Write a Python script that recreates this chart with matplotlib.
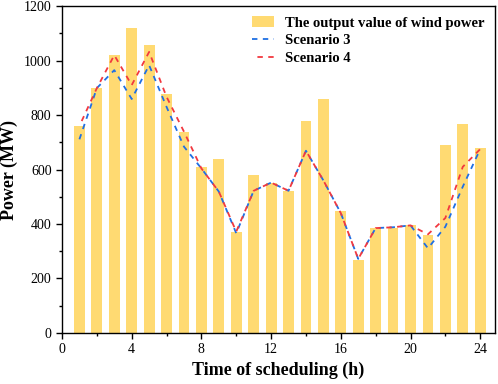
import matplotlib.pyplot as plt
from matplotlib.ticker import MultipleLocator

plt.rcParams['font.family'] = ['Liberation Serif', 'DejaVu Serif']

hours = list(range(1, 25))
wind_power = [760, 899, 1020, 1119, 1059, 878, 739, 610, 638, 371, 580, 549,
              520, 779, 859, 449, 269, 385, 385, 395, 360, 689, 768, 680]
scenario3 = [711, 899, 965, 859, 983, 830, 684, 604, 519, 366, 522, 552,
             522, 669, 560, 440, 272, 385, 388, 395, 311, 390, 537, 675]
scenario4 = [760, 899, 1020, 910, 1032, 867, 739, 604, 519, 372, 522, 552,
             522, 669, 560, 440, 272, 385, 388, 395, 362, 422, 610, 675]

fig = plt.figure(figsize=(4.98, 3.84), dpi=100)
ax = fig.add_axes([0.1245, 0.133, 0.8695, 0.851])

bars = ax.bar(hours, wind_power, width=0.62, color='#FFDA72',
              label='The output value of wind power')
l3, = ax.plot(hours, scenario3, color='#1F6FE3', linestyle=(0, (3, 3)),
              linewidth=1.3, label='Scenario 3')
l4, = ax.plot(hours, scenario4, color='#F2383F', linestyle=(3, (3, 3)),
              linewidth=1.3, label='Scenario 4')

ax.set_xlim(0, 24.85)
ax.set_ylim(0, 1200)
ax.xaxis.set_major_locator(MultipleLocator(4))
ax.xaxis.set_minor_locator(MultipleLocator(2))
ax.yaxis.set_major_locator(MultipleLocator(200))
ax.yaxis.set_minor_locator(MultipleLocator(100))
ax.tick_params(which='major', direction='out', length=4, width=1, labelsize=10)
ax.tick_params(which='minor', direction='out', length=2.5, width=1)
for s in ax.spines.values():
    s.set_linewidth(1)

ax.set_xlabel('Time of scheduling (h)', fontsize=13, fontweight='bold', labelpad=4)
ax.set_ylabel('Power (MW)', fontsize=13, fontweight='bold', labelpad=4)

ax.legend(handles=[bars, l3, l4], loc='upper right', frameon=False,
          prop={'weight': 'bold', 'size': 10.5},
          handlelength=1.5, handletextpad=0.8, labelspacing=0.3,
          borderaxespad=0.3)

fig.savefig('out.png', dpi=100)
